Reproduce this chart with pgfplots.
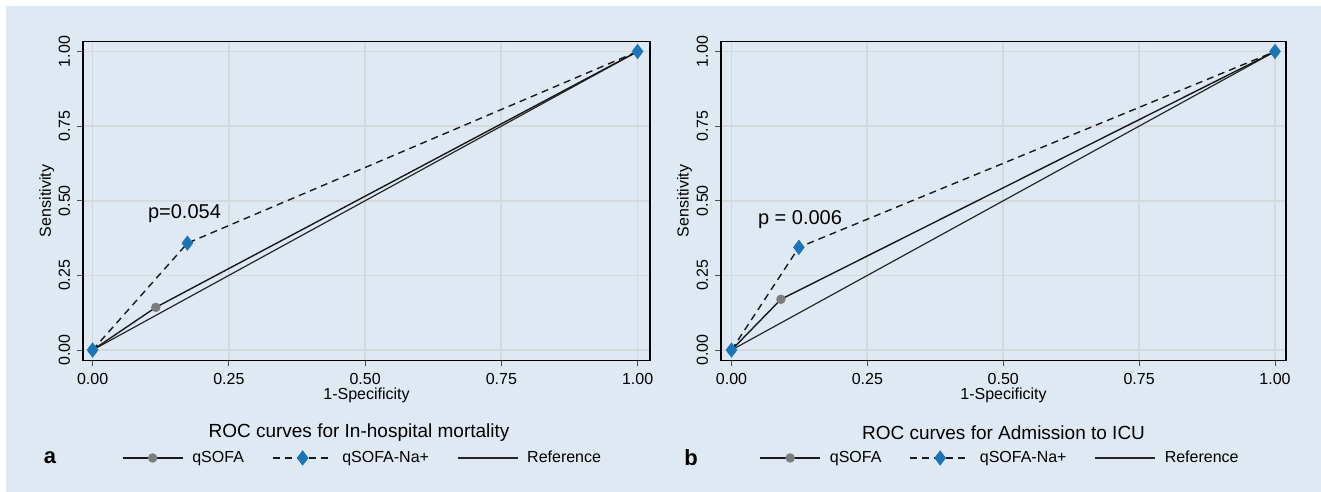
\documentclass[border=0pt]{standalone}
\usepackage{pgfplots}
\pgfplotsset{compat=1.18}
\usepackage{fontspec}
\setmainfont{Liberation Sans}

\definecolor{bgc}{RGB}{223,233,243}
\definecolor{gridc}{RGB}{212,217,222}
\definecolor{naplus}{RGB}{26,118,184}
\definecolor{qgray}{RGB}{125,125,125}

\pgfplotsset{
  rocpanel/.style={
    scale only axis,
    anchor=south west,
    height=159.5pt,
    ymin=-0.035, ymax=1.0335,
    xtick={0,0.25,0.5,0.75,1}, ytick={0,0.25,0.5,0.75,1},
    xticklabels={0.00,0.25,0.50,0.75,1.00},
    yticklabels={0.00,0.25,0.50,0.75,1.00},
    grid=major,
    grid style={gridc, line width=0.9pt},
    axis line style={black, line width=0.6pt},
    tick align=outside, tick pos=left,
    major tick length=3pt,
    tick style={black!70, line width=0.5pt},
    tick label style={font=\fontsize{8}{9}\selectfont},
    y tick label style={rotate=90, anchor=south},
    label style={font=\fontsize{8}{9}\selectfont},
    xlabel={1-Specificity}, ylabel={Sensitivity},
    xlabel style={at={(axis description cs:0.5,-0.108)}, anchor=center},
    legend columns=3,
    legend style={draw=none, fill=none, font=\fontsize{8}{9}\selectfont,
      anchor=center, inner sep=0pt,
      /tikz/every odd column/.append style={column sep=2.5pt},
      /tikz/every even column/.append style={column sep=12pt}},
    legend image code/.code={
      \draw[mark repeat=2, mark phase=2, #1] plot coordinates {(0pt,0pt) (15pt,0pt) (30pt,0pt)};},
  },
  qsofa/.style={black!90, line width=0.7pt, mark=*, mark size=2pt,
    mark options={solid, fill=qgray, draw=qgray}},
  qna/.style={black!90, line width=0.7pt, dash pattern=on 3.5pt off 2.5pt,
    mark=diamond*, mark size=3.3pt, mark options={solid, fill=naplus, draw=naplus}},
  refl/.style={black!85, line width=0.6pt},
}

\begin{document}
\begin{tikzpicture}
\useasboundingbox (0,0) rectangle (660.5pt,246pt);
\fill[bgc] (3pt,0) rectangle (660.5pt,243pt);

% panel a
\begin{axis}[rocpanel,
  at={(41.5pt,65.75pt)}, width=283.5pt,
  xmin=-0.0176, xmax=1.0228,
  ylabel style={at={(axis description cs:-0.064,0.5)}, anchor=center},
  legend style={at={(axis description cs:0.4947,-0.3056)}},
]
\addplot[refl, forget plot] coordinates {(0,0) (1,1)};
\addplot[qsofa] coordinates {(0,0) (0.116,0.143) (1,1)};
\addlegendentry{qSOFA}
\addplot[qna] coordinates {(0,0) (0.174,0.358) (1,1)};
\addlegendentry{qSOFA-Na+}
\addlegendimage{refl}
\addlegendentry{Reference}
\node[anchor=base, font=\fontsize{10}{12}\selectfont] at (axis cs:0.1686,0.439) {p=0.054};
\end{axis}

% panel b
\begin{axis}[rocpanel,
  at={(360.5pt,65.75pt)}, width=282.5pt,
  xmin=-0.0193, xmax=1.0202,
  ylabel style={at={(axis description cs:-0.0646,0.5)}, anchor=center},
  legend style={at={(axis description cs:0.4956,-0.3056)}},
]
\addplot[refl, forget plot] coordinates {(0,0) (1,1)};
\addplot[qsofa] coordinates {(0,0) (0.091,0.170) (1,1)};
\addlegendentry{qSOFA}
\addplot[qna] coordinates {(0,0) (0.124,0.344) (1,1)};
\addlegendentry{qSOFA-Na+}
\addlegendimage{refl}
\addlegendentry{Reference}
\node[anchor=base, font=\fontsize{10}{12}\selectfont] at (axis cs:0.126,0.422) {p = 0.006};
\end{axis}

\node[font=\fontsize{9.5}{11}\selectfont] at (179.5pt,29.5pt) {ROC curves for In-hospital mortality};
\node[font=\fontsize{9.5}{11}\selectfont] at (501.75pt,29.5pt) {ROC curves for Admission to ICU};
\node[font=\fontsize{11}{13}\selectfont\bfseries] at (25pt,17pt) {a};
\node[font=\fontsize{11}{13}\selectfont\bfseries] at (345.5pt,17pt) {b};
\end{tikzpicture}
\end{document}
